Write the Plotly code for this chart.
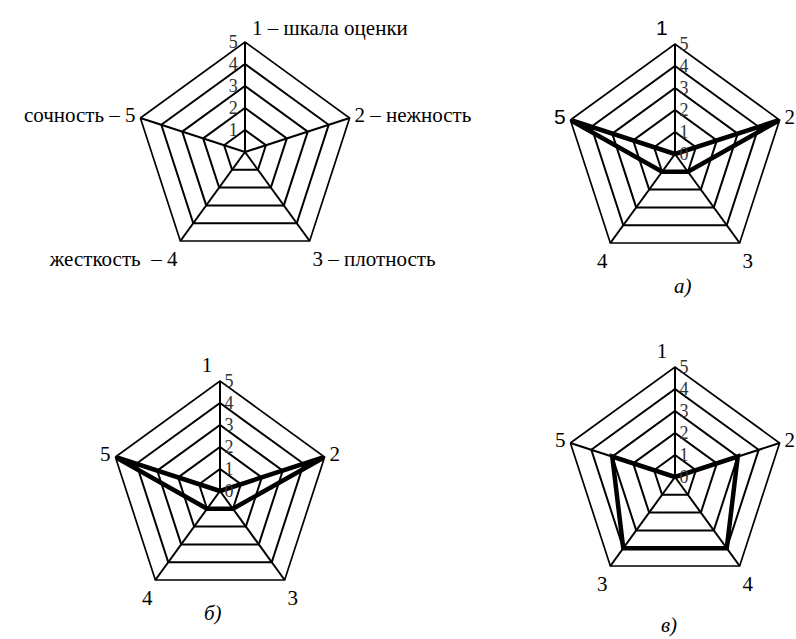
import plotly.graph_objects as go

# ---------------- data ----------------
criteria = ["1", "2", "3", "4", "5"]
template_labels = ["1 – шкала оценки", "2 – нежность", "3 – плотность",
                   "жесткость  – 4", "сочность – 5"]
order_std = ["1", "2", "3", "4", "5"]          # clockwise from top (template, а, б)
order_v = ["1", "2", "4", "3", "5"]            # clockwise from top (в)
values_a = [0, 5, 1, 1, 5]                      # by criterion 1..5
values_b = [0, 5, 1, 1, 5]
values_v = [0, 3, 4, 4, 3]
radial_ticks = [0, 1, 2, 3, 4, 5]
captions = ["а)", "б)", "в)"]

SERIF = "Liberation Serif"
W, H = 796, 639
R = 110
NB = "\u00a0" * 5   # pushes the top category label left of the radial axis


def dom(cx, cy, r=R):
    return dict(x=[(cx - r) / W, (cx + r) / W], y=[1 - (cy + r) / H, 1 - (cy - r) / H])


def ordered(vals, order):
    lookup = dict(zip(criteria, vals))
    th = list(order) + [order[0]]
    return [lookup[c] for c in th], th


fig = go.Figure()

# template chart (no data line)
fig.add_trace(go.Scatterpolar(r=[0] * len(criteria), theta=criteria, mode="none",
                              subplot="polar", hoverinfo="skip", showlegend=False))
for name, vals, order in [("polar2", values_a, order_std),
                          ("polar3", values_b, order_std),
                          ("polar4", values_v, order_v)]:
    rr, th = ordered(vals, order)
    fig.add_trace(go.Scatterpolar(r=rr, theta=th, mode="lines",
                                  line=dict(color="black", width=4.5), subplot=name,
                                  showlegend=False))


def polar(domain, order, ticktext, side, show_zero=True):
    tv = radial_ticks if show_zero else radial_ticks[1:]
    return dict(
        domain=domain,
        bgcolor="white",
        gridshape="linear",
        angularaxis=dict(type="category", categoryarray=order, rotation=90,
                         direction="clockwise", showline=True, linecolor="black",
                         linewidth=1.7, gridcolor="black", gridwidth=1.7, ticks="",
                         ticklen=0, tickmode="array", tickvals=order, ticktext=ticktext,
                         tickfont=dict(family=SERIF, size=21, color="black")),
        radialaxis=dict(range=[0, 5], tickmode="array", tickvals=tv,
                        ticktext=[str(v) for v in tv], showline=True,
                        linecolor="black", linewidth=1.7, gridcolor="black",
                        gridwidth=1.7, angle=90, tickangle=90, side=side, ticks="",
                        tickfont=dict(family=SERIF, size=18, color="#333333")),
    )


lab_map = dict(zip(criteria, template_labels))
txt_template = ["" if c == "1" else lab_map[c] for c in order_std]
txt_a = [('<span style="font-family:Liberation Sans;font-size:21px">%s</span>' % c
          if c in ("1", "5") else c) + (NB if c == "1" else "") for c in order_std]
txt_b = [c + (NB if c == "1" else "") for c in order_std]
txt_v = [c + (NB if c == "1" else "") for c in order_v]

fig.update_layout(
    width=W, height=H,
    margin=dict(l=0, r=0, t=0, b=0),
    paper_bgcolor="white", plot_bgcolor="white",
    showlegend=False,
    polar=polar(dom(245, 152), order_std, txt_template, "counterclockwise", show_zero=False),
    polar2=polar(dom(675, 154), order_std, txt_a, "clockwise"),
    polar3=polar(dom(220, 491), order_std, txt_b, "clockwise"),
    polar4=polar(dom(675, 477), order_v, txt_v, "clockwise"),
)

# top label of the template chart sits to the right of the axis
fig.add_annotation(text=lab_map["1"], x=250 / W, y=1 - 28 / H, xref="paper", yref="paper",
                   xanchor="left", yanchor="middle", showarrow=False,
                   font=dict(family=SERIF, size=21, color="black"))

for text, (x, y) in zip(captions, [(683, 286), (213, 613), (669, 625)]):
    fig.add_annotation(text="<i>%s</i>" % text, x=x / W, y=1 - y / H, xref="paper",
                       yref="paper", xanchor="center", yanchor="middle", showarrow=False,
                       font=dict(family=SERIF, size=21, color="black"))

fig.write_html("out.html", config={"displayModeBar": False},
               post_script="document.body.style.margin='0';")
